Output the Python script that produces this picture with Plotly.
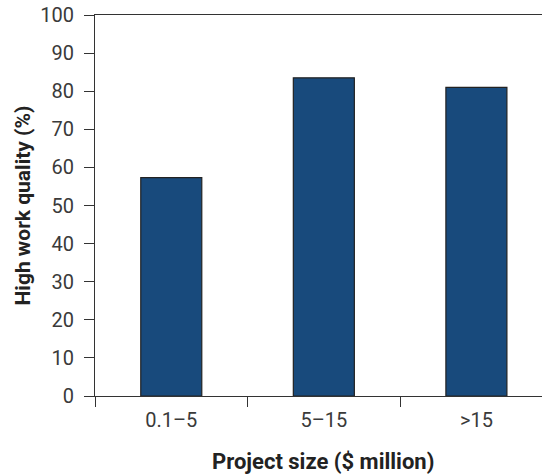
import plotly.graph_objects as go

categories = ["0.1–5", "5–15", ">15"]
values = [57.3, 83.5, 81.0]
y_ticks = list(range(0, 101, 10))

FONT = "Roboto, Arial, sans-serif"

fig = go.Figure()
fig.add_trace(go.Bar(
    x=categories, y=values, width=0.4,
    marker=dict(color="#184a7c", line=dict(color="#222222", width=1.2)),
))

fig.update_layout(
    width=542, height=475,
    margin=dict(l=95, r=0, t=15, b=79, pad=0),
    plot_bgcolor="white", paper_bgcolor="white",
    showlegend=False,
    font=dict(family=FONT, size=20, color="#333333"),
    xaxis=dict(
        type="category", range=[-0.5, 2.43], automargin=False,
        showline=True, linecolor="#333333", linewidth=1, mirror=True,
        ticks="outside", ticklen=10, tickcolor="#333333", tickson="boundaries",
        showgrid=False, zeroline=False,
        tickfont=dict(size=20, color="#3a3a3a"),
        ticklabelstandoff=6,
    ),
    yaxis=dict(
        range=[0, 100], tickvals=y_ticks, automargin=False,
        showline=True, linecolor="#333333", linewidth=1,
        ticks="outside", ticklen=10, tickcolor="#333333",
        showgrid=False, zeroline=False,
        tickfont=dict(size=20, color="#3a3a3a"),
        ticklabelstandoff=6,
    ),
)
fig.add_annotation(
    text="<b>High work quality (%)</b>", xref="paper", yref="paper",
    x=0, xshift=-73, y=0.5, xanchor="center", yanchor="middle",
    textangle=-90, showarrow=False,
    font=dict(size=21, color="#222222", family=FONT),
)
fig.add_annotation(
    text="<b>Project size ($ million)</b>", xref="paper", yref="paper",
    x=0.511, y=0, yshift=-65, yanchor="middle", showarrow=False,
    font=dict(size=22, color="#222222", family=FONT),
)

fig.write_html(
    "out.html",
    config={"displayModeBar": False},
    post_script="document.body.style.margin='0px';document.body.style.overflow='hidden';",
)
